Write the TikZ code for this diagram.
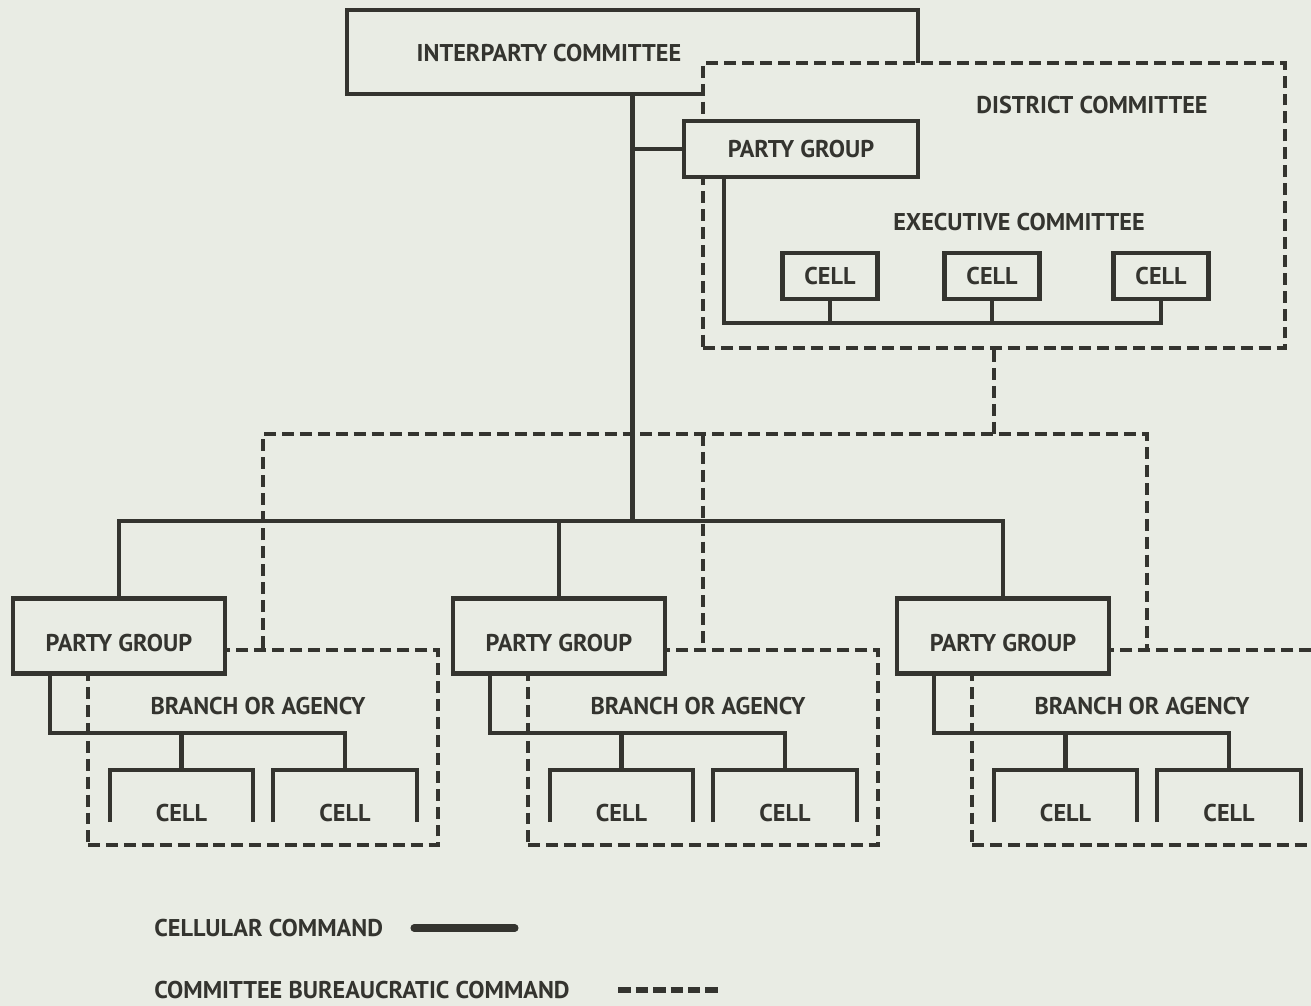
\documentclass[tikz,border=0pt]{standalone}
\usepackage{fontspec}
\setmainfont{PT Sans}

\definecolor{paper}{HTML}{E9ECE4}
\definecolor{ink}{HTML}{34342F}

\tikzset{
  cellular/.style={draw=ink, line width=2.5pt},
  bureau/.style={draw=ink, line width=2.4pt, dash pattern=on 6.8pt off 3.4pt},
  lbl/.style={text=ink, font=\fontsize{13.8}{16}\selectfont\bfseries, inner sep=0pt},
  orgbox/.style={lbl, draw=ink, line width=2.5pt, fill=paper},
  burobox/.style={bureau, inner sep=0pt},
  cellslot/.style={inner sep=0pt, outer sep=0pt, minimum height=1.04cm}
}

\begin{document}
\begin{tikzpicture}[x=0.02cm, y=-0.02cm]

% Paper
\useasboundingbox[fill=paper] (0,0) rectangle (1311,1006);
\clip (0,0) rectangle (1311,1006);

% Interparty committee, half hidden behind the district committee
\node[orgbox, minimum width=11.42cm, minimum height=1.68cm] (ipc) at (632.5,52) {};
\node[lbl] (ipctext) at (549,53) {INTERPARTY COMMITTEE};

% District committee
\node[burobox, fill=paper, minimum width=11.64cm, minimum height=5.7cm] (dist) at (994,205.5) {};
\node[lbl] (disttext) at (1092,105) {DISTRICT COMMITTEE};
\node[lbl] (exectext) at (1019,222) {EXECUTIVE COMMITTEE};
\node[orgbox, minimum width=4.68cm, minimum height=1.12cm] (pgd) at (801,149) {PARTY GROUP};

\foreach \n/\x in {1/830, 2/992, 3/1161}
  \node[orgbox, minimum width=1.9cm, minimum height=0.92cm] (ec\n) at (\x,276) {CELL};

\coordinate (ebus) at (ec3.south |- 0,323);
\draw[cellular] ([xshift=0.84cm]pgd.south west) |- (ebus) -- (ec3.south);
\foreach \n in {1,2}
  \draw[cellular] (ec\n.south) -- (ec\n.south |- ebus);

% Branches or agencies with their party groups
\foreach \n/\x in {1/13, 2/453, 3/897} {
  \node[burobox, minimum width=7cm, minimum height=3.9cm] (br\n) at ({\x+250},747.5) {};
  \node[lbl] (brtext\n) at ({\x+245},706) {BRANCH OR AGENCY};
  \node[orgbox, minimum width=4.24cm, minimum height=1.5cm,
        text height=17.7pt, text depth=0pt] (pg\n) at ({\x+106},636) {PARTY GROUP};
  \node[cellslot, minimum width=2.86cm] (cella\n) at ({\x+168.5},796) {};
  \node[cellslot, minimum width=2.88cm] (cellb\n) at ({\x+332},796) {};
  \draw[cellular] (cella\n.south west) |- (cella\n.north) -| (cella\n.south east);
  \draw[cellular] (cellb\n.south west) |- (cellb\n.north) -| (cellb\n.south east);
  \node[lbl, anchor=base] (cta\n) at (cella\n.south) {CELL};
  \node[lbl, anchor=base] (ctb\n) at (cellb\n.south) {CELL};
  % party group down to its cells
  \coordinate (bbus\n) at (cellb\n.north |- 0,733);
  \draw[cellular] ([xshift=0.78cm]pg\n.south west) |- (bbus\n) -- (cellb\n.north);
  \draw[cellular] (cella\n.north) -- (cella\n.north |- bbus\n);
}

% Committee bureaucratic command
\coordinate (dsplit) at (dist.south |- 0,434);
\draw[bureau] (dist.south) -- (dsplit);
\draw[bureau] (br1.north) |- (dsplit) -| (br3.north);
\draw[bureau] (br2.north |- dsplit) -- (br2.north);

% Cellular command
\coordinate (hub) at (ipc.south |- 0,521);
\draw[cellular] (ipc.south) -- (hub);
\draw[cellular] (pg1.north) |- (hub) -| (pg3.north);
\draw[cellular] (pg2.north |- hub) -- (pg2.north);
\draw[cellular] (ipc.south |- pgd.west) -- (pgd.west);

% Key
\node[lbl, anchor=west] (keysolid) at (154,928) {CELLULAR COMMAND};
\node[lbl, anchor=west] (keydash) at (154,990) {COMMITTEE BUREAUCRATIC COMMAND};
\draw[cellular, line width=4pt, line cap=round] (414,928) -- (515,928);
\draw[bureau, line width=3pt, dash pattern=on 0.25cm off 0.1cm] (618,990) -- (718,990);

\end{tikzpicture}
\end{document}
